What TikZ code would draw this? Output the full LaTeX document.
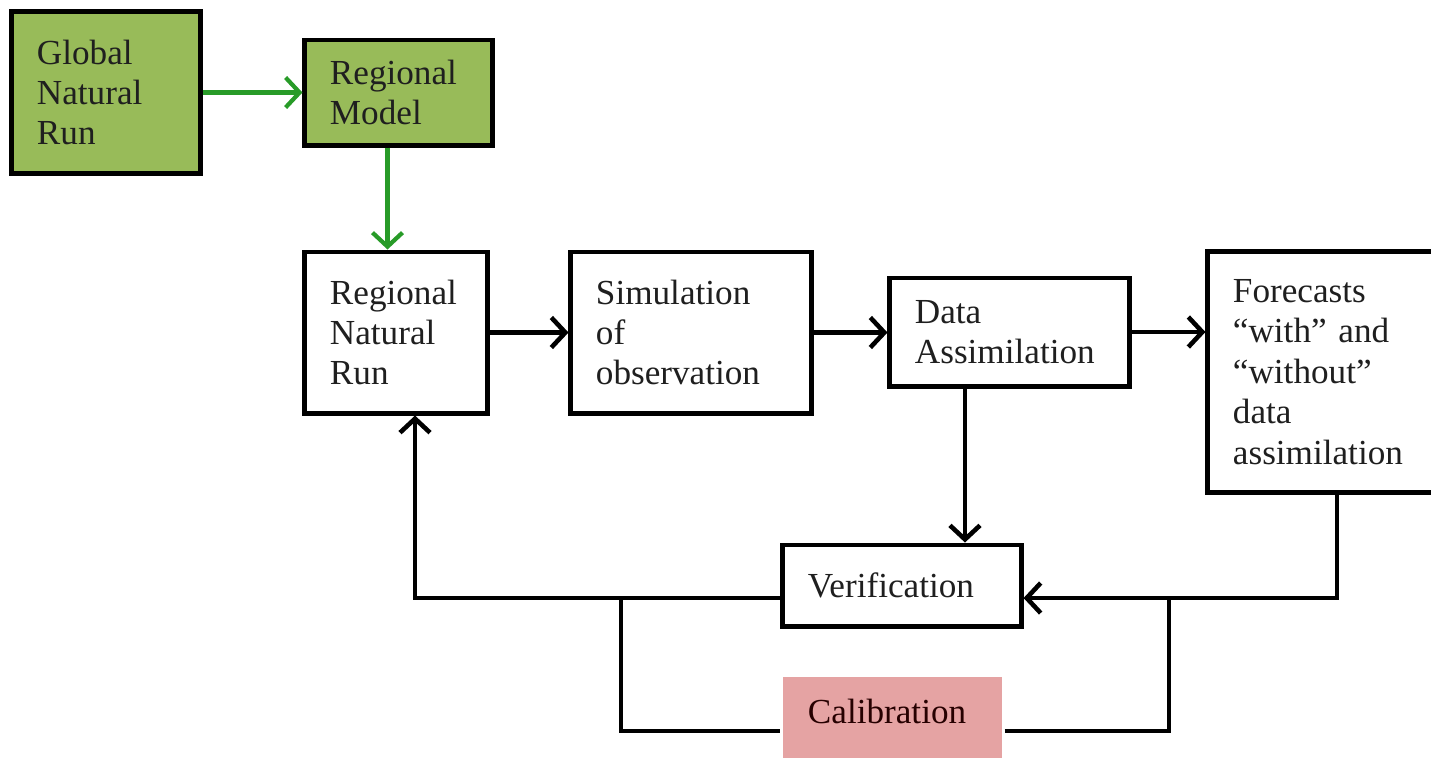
\documentclass[tikz,border=0pt]{standalone}
\usepackage{fontspec}
\setmainfont{Liberation Serif}
\usetikzlibrary{positioning, arrows.meta, calc}
\definecolor{boxgreen}{RGB}{152,187,89}
\definecolor{arrowgreen}{RGB}{40,155,40}
\definecolor{calpink}{RGB}{229,163,163}

\begin{document}
\begin{tikzpicture}[x=0.01cm, y=-0.01cm,
  stage/.style={draw, line width=1.4pt, fill=white, align=left, inner xsep=0.25cm, inner ysep=0pt,
    font=\fontsize{10}{11.5}\selectfont, text=black!88},
  flow/.style={line width=1.3pt, -{Straight Barb[length=1.4mm, width=3mm]}},
  feed/.style={flow, draw=arrowgreen, line width=1.2pt},
  link/.style={line width=1.3pt}]
  \useasboundingbox (0,0) rectangle (1431,757);
  % model chain
  \node[stage, fill=boxgreen, text width=1.38cm, minimum height=1.61cm] (gnr) at (106,92.5) {Global\\Natural\\Run};
  \node[stage, fill=boxgreen, text width=1.37cm, minimum height=1.05cm] (rm) at (398.5,92.5) {Regional\\Model};
  \node[stage, text width=1.32cm, minimum height=1.61cm] (rnr) at (396,332.5) {Regional\\Natural\\Run};
  \node[stage, text width=1.9cm, minimum height=1.61cm] (sim) at (691,332.5) {Simulation\\of\\observation};
  \node[stage, text width=1.89cm, minimum height=1.08cm] (da) at (1009.5,332) {Data\\Assimilation};
  \node[stage, text width=1.9cm, minimum height=2.4cm] (fc) at (1328,372) {Forecasts\\``with'' and\\``without''\\data\\assimilation};
  \node[stage, text width=1.88cm, minimum height=0.81cm] (ver) at (902,585.5) {Verification};
  \node[stage, draw=none, fill=calpink, text=black!70!red!50!black, text width=1.69cm,
    text height=0.46cm, text depth=0.37cm, anchor=base] (cal) at (892.5,723) {Calibration};
  \coordinate (split) at (621,598);
  \coordinate (merge) at (1169,598);
  % connectors
  \draw[feed] (gnr) -- (rm);
  \draw[feed] ([xshift=-0.11cm]rm.south) -- ([xshift=-0.11cm]rm.south |- rnr.north);
  \draw[flow] (rnr) -- (sim);
  \draw[flow] (sim.east) -- (sim.east -| da.west);
  \draw[flow] (da.east) -- (da.east -| fc.west);
  \draw[flow] ([xshift=-0.445cm]da.south) -- ([xshift=-0.445cm]da.south |- ver.north);
  \draw[flow] ([xshift=0.09cm]fc.south) |- ([yshift=-0.125cm]ver.east);
  \draw[flow] ([yshift=-0.125cm]ver.west) -| ([xshift=0.19cm]rnr.south);
  \draw[link] (split) |- ([yshift=-0.08cm]cal.base west);
  \draw[link] ([yshift=-0.08cm]cal.base east) -| (merge);
\end{tikzpicture}
\end{document}
